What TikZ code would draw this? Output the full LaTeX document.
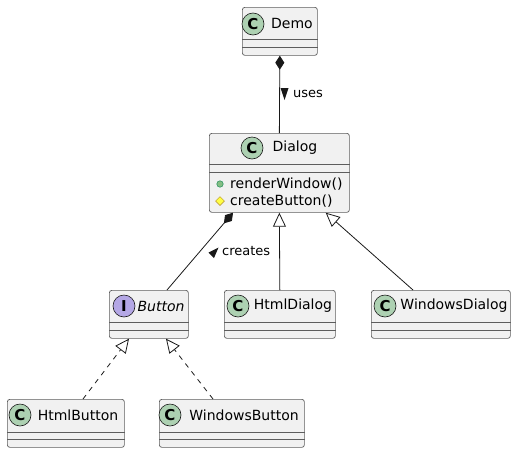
\documentclass[tikz,border=0pt]{standalone}
\usepackage{fontspec}
\setmainfont{DejaVu Sans}
\usetikzlibrary{arrows.meta,shapes.geometric}
\definecolor{umlfill}{HTML}{F1F1F1}
\definecolor{umlline}{HTML}{181818}
\definecolor{classspot}{HTML}{ADD1B2}
\definecolor{ifacespot}{HTML}{B4A7E5}
\definecolor{pubfill}{HTML}{84BE84}
\definecolor{publine}{HTML}{038048}
\definecolor{protfill}{HTML}{FFFF44}
\definecolor{protline}{HTML}{B38D22}
\tikzset{
    classbox/.style={draw=umlline!70, fill=umlfill, rounded corners=2.5pt, line width=0.7pt, anchor=north west, inner sep=0pt, minimum height=48pt},
    spot/.style={circle, draw=umlline, line width=0.6pt, minimum size=22pt, inner sep=0pt, font=\bfseries\fontsize{15}{15}\selectfont},
    classname/.style={font=\fontsize{14}{16}\selectfont, inner sep=0pt},
    member/.style={font=\fontsize{14}{16}\selectfont, inner sep=0pt, anchor=west},
    relabel/.style={font=\fontsize{13}{15}\selectfont, inner sep=0pt, anchor=west},
    divider/.style={draw=umlline!70, line width=0.7pt},
    assoc/.style={draw=umlline, line width=0.8pt},
    composed/.style={assoc, {Diamond[length=14pt,width=9pt,fill=umlline]}-},
    inherits/.style={assoc, -{Triangle[length=14pt,width=13pt,fill=white]}},
    realizes/.style={inherits, dash pattern=on 5pt off 5pt},
}
\begin{document}
\begin{tikzpicture}[x=1pt, y=-1pt]
    \useasboundingbox (0,0) rectangle (516,453);
    % classes
    \node[classbox, minimum width=75pt] (demo) at (242,7) {};
    \draw[divider] ([yshift=-32pt]demo.north west) -- ([yshift=-32pt]demo.north east);
    \draw[divider] ([yshift=-40pt]demo.north west) -- ([yshift=-40pt]demo.north east);
    \node[spot, fill=classspot] (demospot) at (253,24) {C};
    \node[classname] (demoname) at (292,23) {Demo};

    \node[classbox, minimum width=140pt, minimum height=79pt] (dialog) at (209,133) {};
    \draw[divider] ([yshift=-31pt]dialog.north west) -- ([yshift=-31pt]dialog.north east);
    \draw[divider] ([yshift=-39pt]dialog.north west) -- ([yshift=-39pt]dialog.north east);
    \node[spot, fill=classspot] (dialogspot) at (252,148) {C};
    \node[classname] (dialogname) at (295,148) {Dialog};
    \node[circle, fill=pubfill, draw=publine, minimum size=6.5pt, inner sep=0pt] (pubmark) at (220,184) {};
    \node[member] (render) at (230,184) {renderWindow()};
    \node[diamond, fill=protfill, draw=protline, line width=0.5pt, minimum size=9pt, inner sep=0pt] (protmark) at (220,201) {};
    \node[member] (create) at (230,201) {createButton()};

    \node[classbox, minimum width=79pt] (button) at (109,290) {};
    \draw[divider] ([yshift=-32pt]button.north west) -- ([yshift=-32pt]button.north east);
    \draw[divider] ([yshift=-40pt]button.north west) -- ([yshift=-40pt]button.north east);
    \node[spot, fill=ifacespot] (buttonspot) at (124,306) {I};
    \node[classname, font=\itshape\fontsize{14}{16}\selectfont] (buttonname) at (161,306) {Button};

    \node[classbox, minimum width=111pt] (htmldialog) at (224,290) {};
    \draw[divider] ([yshift=-32pt]htmldialog.north west) -- ([yshift=-32pt]htmldialog.north east);
    \draw[divider] ([yshift=-40pt]htmldialog.north west) -- ([yshift=-40pt]htmldialog.north east);
    \node[spot, fill=classspot] (htmldialogspot) at (238,306) {C};
    \node[classname] (htmldialogname) at (293,306) {HtmlDialog};

    \node[classbox, minimum width=139pt] (windowsdialog) at (371,290) {};
    \draw[divider] ([yshift=-32pt]windowsdialog.north west) -- ([yshift=-32pt]windowsdialog.north east);
    \draw[divider] ([yshift=-40pt]windowsdialog.north west) -- ([yshift=-40pt]windowsdialog.north east);
    \node[spot, fill=classspot] (windowsdialogspot) at (385,306) {C};
    \node[classname] (windowsdialogname) at (454,306) {WindowsDialog};

    \node[classbox, minimum width=117pt] (htmlbutton) at (7,399) {};
    \draw[divider] ([yshift=-33pt]htmlbutton.north west) -- ([yshift=-33pt]htmlbutton.north east);
    \draw[divider] ([yshift=-40pt]htmlbutton.north west) -- ([yshift=-40pt]htmlbutton.north east);
    \node[spot, fill=classspot] (htmlbuttonspot) at (20,415) {C};
    \node[classname] (htmlbuttonname) at (78,415) {HtmlButton};

    \node[classbox, minimum width=145pt] (windowsbutton) at (159,399) {};
    \draw[divider] ([yshift=-33pt]windowsbutton.north west) -- ([yshift=-33pt]windowsbutton.north east);
    \draw[divider] ([yshift=-40pt]windowsbutton.north west) -- ([yshift=-40pt]windowsbutton.north east);
    \node[spot, fill=classspot] (windowsbuttonspot) at (170,415) {C};
    \node[classname] (windowsbuttonname) at (244,415) {WindowsButton};

    % relations
    \draw[composed] (demo.south) -- (dialog.north);
    \fill[umlline] (280.5,88) -- (288.5,88) -- (284.5,100) -- cycle;
    \node[relabel] (useslabel) at (293,94) {uses};
    \draw[composed] ([xshift=24pt]dialog.south west) -- ([xshift=58pt]button.north west);
    \fill[umlline] (218.5,247.5) -- (214,258) -- (208.5,252.5) -- cycle;
    \node[relabel] (createslabel) at (222,251) {creates};
    \draw[inherits] (htmldialog.north) -- (dialog.south);
    \draw[inherits] ([xshift=42pt]windowsdialog.north west) -- ([xshift=-24pt]dialog.south east);
    \draw[realizes] ([xshift=76pt]htmlbutton.north west) -- ([xshift=20pt]button.south west);
    \draw[realizes] ([xshift=54pt]windowsbutton.north west) -- ([xshift=57pt]button.south west);
\end{tikzpicture}
\end{document}
